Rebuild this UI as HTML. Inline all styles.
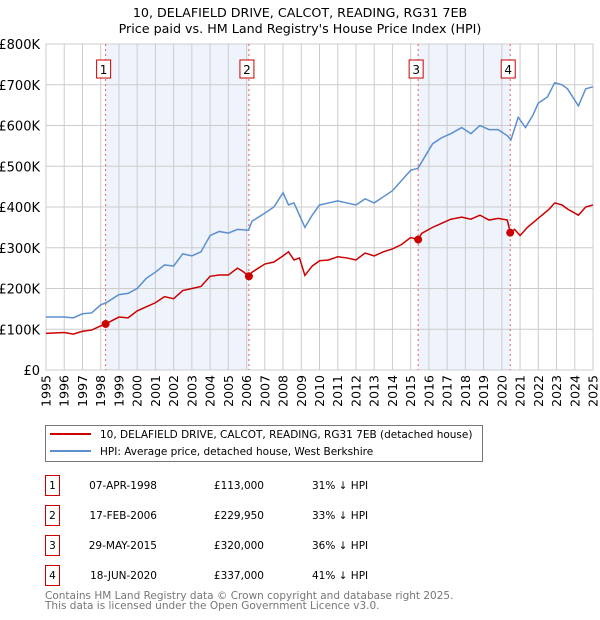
<!DOCTYPE html>
<html><head><meta charset="utf-8"><style>
body{margin:0;background:#fff;}
svg{display:block;font-family:"DejaVu Sans","Liberation Sans",sans-serif;}
</style></head><body>
<svg id="chart" width="600" height="620">
<g id="g"></g>
</svg>
<script>
const years=[1995,1996,1997,1998,1999,2000,2001,2002,2003,2004,2005,2006,2007,2008,2009,2010,2011,2012,2013,2014,2015,2016,2017,2018,2019,2020,2021,2022,2023,2024,2025];
const yTicks=[0,100000,200000,300000,400000,500000,600000,700000,800000];
const yTickLabels=["£0","£100K","£200K","£300K","£400K","£500K","£600K","£700K","£800K"];
const hpiT=[1995,1995.5,1996,1996.5,1997,1997.5,1998,1998.3,1999,1999.5,2000,2000.5,2001,2001.5,2002,2002.5,2003,2003.5,2004,2004.5,2005,2005.5,2006.1,2006.3,2007,2007.5,2008,2008.3,2008.6,2008.9,2009.2,2009.6,2010,2010.5,2011,2011.5,2012,2012.5,2013,2013.5,2014,2014.5,2015,2015.4,2015.8,2016.2,2016.7,2017.2,2017.8,2018.3,2018.8,2019.3,2019.8,2020.3,2020.5,2020.9,2021.3,2021.7,2022,2022.5,2022.9,2023.3,2023.6,2024.2,2024.6,2025];
const hpiV=[130,130,130,128,138,140,160,165,185,188,200,225,240,258,255,285,280,290,330,340,336,345,343,365,385,400,435,405,410,380,350,380,405,410,415,410,405,420,410,425,440,465,490,495,525,555,570,580,595,580,600,590,590,575,565,620,595,625,655,670,705,700,690,648,690,695];
const redT=[1995,1996,1996.5,1997,1997.5,1998,1998.27,1999,1999.5,2000,2000.5,2001,2001.5,2002,2002.5,2003,2003.5,2004,2004.5,2005,2005.5,2005.8,2006.13,2006.3,2007,2007.5,2008,2008.3,2008.6,2008.9,2009.2,2009.6,2010,2010.5,2011,2011.5,2012,2012.5,2013,2013.5,2014,2014.5,2015,2015.41,2015.6,2016.2,2016.7,2017.2,2017.8,2018.3,2018.8,2019.3,2019.8,2020.3,2020.46,2020.7,2021,2021.4,2021.8,2022.2,2022.6,2022.9,2023.3,2023.6,2024.2,2024.6,2025];
const redV=[90,92,88,95,98,108,113,130,128,145,155,165,180,175,195,200,205,230,233,233,250,242,230,240,260,265,280,290,270,275,232,255,268,270,278,275,270,287,280,290,297,308,325,320,335,350,360,370,375,370,380,368,372,368,337,345,330,350,365,380,395,410,405,395,380,400,405];
const saleT=[1998.27,2006.13,2015.41,2020.46];
const saleV=[113,229.95,320,337];
const ns="http://www.w3.org/2000/svg";
const g=document.getElementById('g');
const X0=46,X1=593,Y0=370,Y1=44;
const x=t=>X0+(t-1995)/30*(X1-X0);
const y=v=>Y0-v/800000*(Y0-Y1);
function el(tag,a,txt){const e=document.createElementNS(ns,tag);for(const k in a)e.setAttribute(k,a[k]);if(txt!==undefined)e.textContent=txt;g.appendChild(e);return e;}
let e;
for(let i=0;i<4;i+=2){e=el('rect',{x:x(saleT[i]),y:Y1,width:x(saleT[i+1])-x(saleT[i]),height:Y0-Y1,fill:'#eef3fc'});

}
years.forEach(t=>{e=el('line',{x1:x(t),x2:x(t),y1:Y1,y2:Y0,stroke:'#cccccc','stroke-width':1});


const tx=x(t)+4.5;
e=el('text',{x:tx,y:375,'text-anchor':'end','font-size':12.5,fill:'#000',transform:'rotate(-90 '+tx+' 375)'},t);

});
yTicks.forEach((v,i)=>{e=el('line',{x1:X0,x2:X1,y1:y(v),y2:y(v),stroke:'#cccccc','stroke-width':1});


e=el('text',{x:40,y:y(v)+5,'text-anchor':'end','font-size':13,fill:'#000'},yTickLabels[i]);

});
e=el('rect',{x:X0,y:Y1,width:X1-X0,height:Y0-Y1,fill:'none',stroke:'#cccccc'});


saleT.forEach((t,i)=>{e=el('line',{x1:x(t),x2:x(t),y1:Y1,y2:Y0,stroke:'#e06060','stroke-width':1,'stroke-dasharray':'2,3'});


e=el('rect',{x:x(t)-9,y:60,width:14,height:18,fill:'#fff',stroke:'#cc0000'});


e=el('text',{x:x(t)-2,y:74,'text-anchor':'middle','font-size':12},i+1);

});
const pts=(T,V)=>T.map((t,i)=>x(t)+','+y(V[i]*1000)).join(' ');
e=el('polyline',{points:pts(hpiT,hpiV),fill:'none',stroke:'#5b8fd0','stroke-width':1.5});


e=el('polyline',{points:pts(redT,redV),fill:'none',stroke:'#cc0000','stroke-width':1.5});


saleT.forEach((t,i)=>{e=el('circle',{cx:x(t),cy:y(saleV[i]*1000),r:4,fill:'#cc0000'});

});
</script>
<svg style="position:absolute;left:0;top:0" width="600" height="620">
<text x="300" y="17" text-anchor="middle" font-size="12.7">10, DELAFIELD DRIVE, CALCOT, READING, RG31 7EB</text>
<text x="300" y="33" text-anchor="middle" font-size="12.7">Price paid vs. HM Land Registry's House Price Index (HPI)</text>
<g>
<rect x="45.5" y="425.5" width="437" height="36" fill="#fff" stroke="#777"/>
<line x1="50" x2="91" y1="434" y2="434" stroke="#cc0000" stroke-width="2"/>
<text x="100" y="438" font-size="10.5">10, DELAFIELD DRIVE, CALCOT, READING, RG31 7EB (detached house)</text>
<line x1="50" x2="91" y1="451" y2="451" stroke="#5b8fd0" stroke-width="2"/>
<text x="100" y="455" font-size="10.5">HPI: Average price, detached house, West Berkshire</text>
</g>
<g font-size="10.5">
<g><rect x="45.5" y="475.5" width="14" height="20" fill="none" stroke="#cc0000"/><text x="52.5" y="489" text-anchor="middle">1</text><text x="157" y="489" text-anchor="end">07-APR-1998</text><text x="264" y="489" text-anchor="end">£113,000</text><text x="312" y="489">31% ↓ HPI</text></g>
<g><rect x="45.5" y="505.5" width="14" height="20" fill="none" stroke="#cc0000"/><text x="52.5" y="519" text-anchor="middle">2</text><text x="157" y="519" text-anchor="end">17-FEB-2006</text><text x="264" y="519" text-anchor="end">£229,950</text><text x="312" y="519">33% ↓ HPI</text></g>
<g><rect x="45.5" y="535.5" width="14" height="20" fill="none" stroke="#cc0000"/><text x="52.5" y="549" text-anchor="middle">3</text><text x="157" y="549" text-anchor="end">29-MAY-2015</text><text x="264" y="549" text-anchor="end">£320,000</text><text x="312" y="549">36% ↓ HPI</text></g>
<g><rect x="45.5" y="565.5" width="14" height="20" fill="none" stroke="#cc0000"/><text x="52.5" y="579" text-anchor="middle">4</text><text x="157" y="579" text-anchor="end">18-JUN-2020</text><text x="264" y="579" text-anchor="end">£337,000</text><text x="312" y="579">41% ↓ HPI</text></g>
</g>
<text x="45" y="599" font-size="10.5" fill="#777">Contains HM Land Registry data © Crown copyright and database right 2025.</text>
<text x="45" y="609" font-size="10.5" fill="#777">This data is licensed under the Open Government Licence v3.0.</text>
</svg>
</body></html>
